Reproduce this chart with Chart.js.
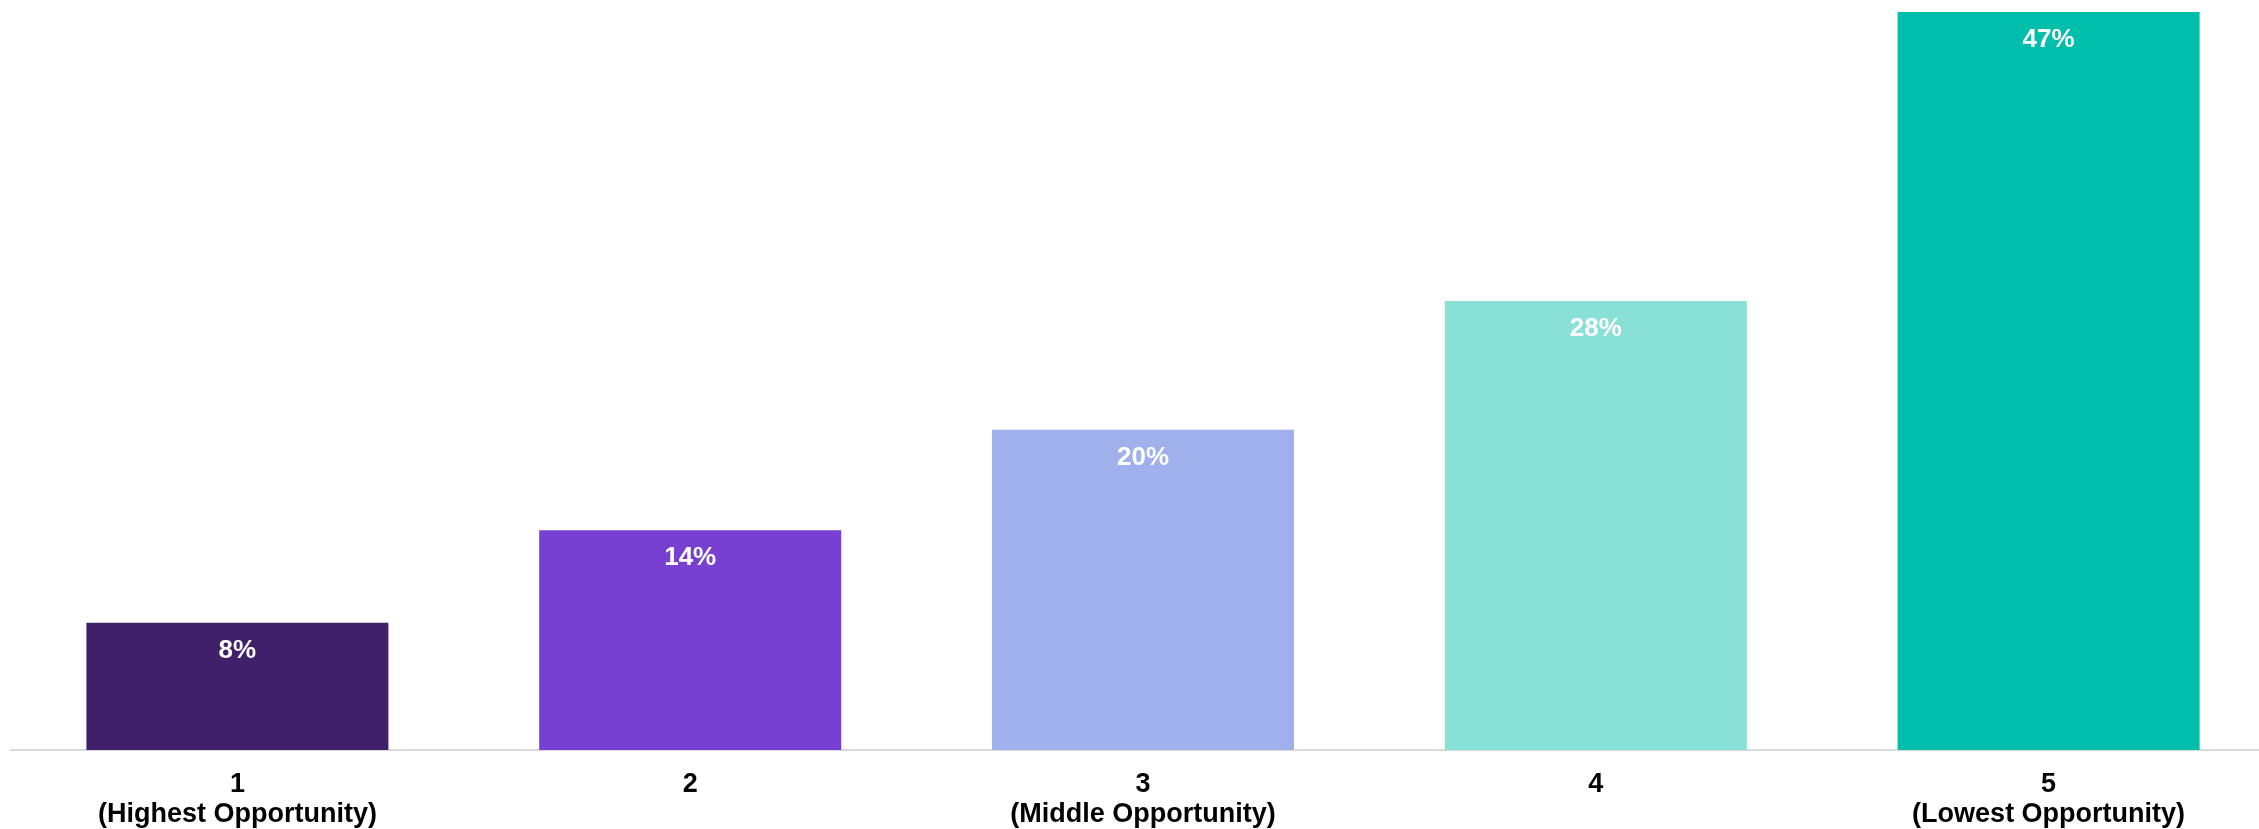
<!DOCTYPE html>
<html>
<head>
<meta charset="utf-8">
<script src="https://cdn.jsdelivr.net/npm/chart.js@4"></script>
<style>
  html, body { margin: 0; padding: 0; background: #fff; overflow: hidden; }
  #wrap { width: 2276px; height: 829px; }
</style>
</head>
<body>
<div id="wrap"><canvas id="myChart"></canvas></div>
<script>
var categories = [['1', '(Highest Opportunity)'], '2', ['3', '(Middle Opportunity)'], '4', ['5', '(Lowest Opportunity)']];
var shares = [8.1, 14, 20.4, 28.6, 47];
var shareLabels = ['8%', '14%', '20%', '28%', '47%'];
var barColors = ['#41206A', '#783FD3', '#A0B0EC', '#88E0D7', '#00BDAC'];

// white % labels just inside the top of each bar
var valueLabels = {
  id: 'valueLabels',
  afterDatasetsDraw: function(chart) {
    var ctx = chart.ctx;
    var meta = chart.getDatasetMeta(0);
    ctx.save();
    ctx.fillStyle = '#ffffff';
    ctx.font = 'bold 26px "Liberation Sans", Arial, sans-serif';
    ctx.textAlign = 'center';
    ctx.textBaseline = 'middle';
    meta.data.forEach(function(bar, i) {
      ctx.fillText(shareLabels[i], bar.x, bar.y + 28);
    });
    ctx.restore();
  }
};

var ctx = document.getElementById('myChart').getContext('2d');
new Chart(ctx, {
  type: 'bar',
  data: {
    labels: categories,
    datasets: [{
      data: shares,
      backgroundColor: barColors,
      categoryPercentage: 1,
      barPercentage: 0.667
    }]
  },
  plugins: [valueLabels],
  options: {
    responsive: true,
    maintainAspectRatio: false,
    animation: false,
    layout: { padding: { left: 11, right: 1, top: 12, bottom: 0 } },
    plugins: {
      legend: { display: false },
      tooltip: { enabled: false }
    },
    scales: {
      x: {
        grid: { display: false, drawTicks: false },
        border: { display: true, color: '#D9D9D9', width: 2 },
        ticks: {
          color: '#000000',
          padding: 19,
          maxRotation: 0,
          autoSkip: false,
          font: { family: '"Liberation Sans", Arial, sans-serif', size: 27, weight: 'bold', lineHeight: 1.12 }
        },
        afterFit: function(scale) { scale.height = 79; }
      },
      y: {
        display: false,
        min: 0,
        max: 47
      }
    }
  }
});
</script>
</body>
</html>
